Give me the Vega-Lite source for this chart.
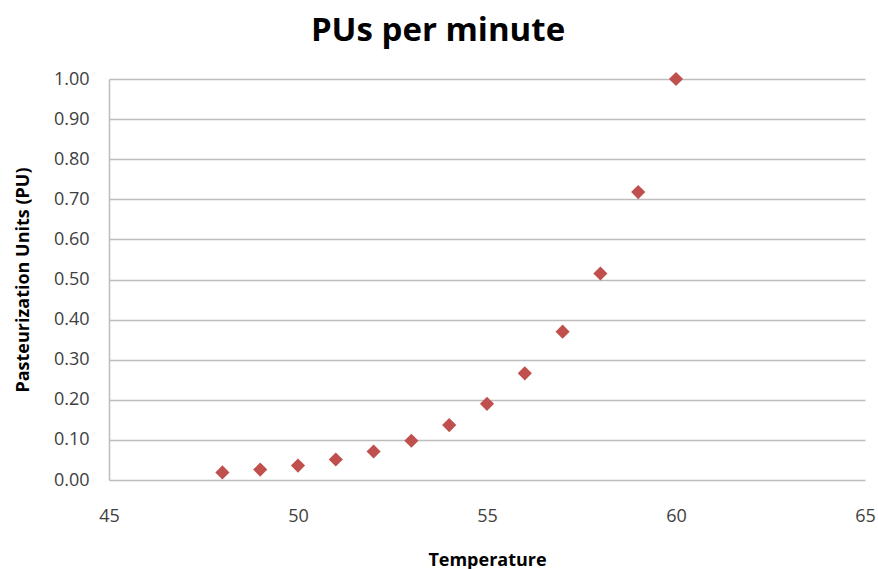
{
  "$schema": "https://vega.github.io/schema/vega-lite/v6.json",
  "width": 756,
  "height": 401,
  "autosize": {"type": "none"},
  "padding": {"left": 109, "top": 79, "right": 13, "bottom": 89},
  "background": "white",
  "title": {
    "text": "PUs per minute",
    "font": "Open Sans",
    "fontSize": 33,
    "fontWeight": "bold",
    "color": "#000000",
    "anchor": "middle",
    "dx": -49,
    "offset": 22
  },
  "data": {
    "values": [
      {"Temperature": 48, "PU": 0.019},
      {"Temperature": 49, "PU": 0.026},
      {"Temperature": 50, "PU": 0.036},
      {"Temperature": 51, "PU": 0.051},
      {"Temperature": 52, "PU": 0.071},
      {"Temperature": 53, "PU": 0.098},
      {"Temperature": 54, "PU": 0.137},
      {"Temperature": 55, "PU": 0.19},
      {"Temperature": 56, "PU": 0.266},
      {"Temperature": 57, "PU": 0.37},
      {"Temperature": 58, "PU": 0.515},
      {"Temperature": 59, "PU": 0.718},
      {"Temperature": 60, "PU": 1.0}
    ]
  },
  "mark": {"type": "point", "shape": "diamond", "filled": true, "size": 200, "color": "#c0504d", "opacity": 1},
  "encoding": {
    "x": {
      "field": "Temperature",
      "type": "quantitative",
      "scale": {"domain": [45, 65], "nice": false, "zero": false},
      "axis": {
        "values": [45, 50, 55, 60, 65],
        "grid": false,
        "ticks": false,
        "domain": false,
        "labelFont": "Open Sans",
        "labelFontSize": 18,
        "labelColor": "#404040",
        "labelPadding": 27,
        "labelFlush": false,
        "title": "Temperature",
        "titleFont": "Open Sans",
        "titleFontSize": 18,
        "titleFontWeight": "bold",
        "titleColor": "#000000",
        "titlePadding": 26
      }
    },
    "y": {
      "field": "PU",
      "type": "quantitative",
      "scale": {"domain": [0, 1], "nice": false},
      "axis": {
        "values": [0, 0.1, 0.2, 0.3, 0.4, 0.5, 0.6, 0.7, 0.8, 0.9, 1.0],
        "format": ".2f",
        "grid": true,
        "gridColor": "#bdbdbd",
        "gridWidth": 1.5,
        "ticks": false,
        "domain": true,
        "domainColor": "#bdbdbd",
        "domainWidth": 1.5,
        "labelFont": "Open Sans",
        "labelFontSize": 18,
        "labelColor": "#404040",
        "labelPadding": 20,
        "title": "Pasteurization Units (PU)",
        "titleFont": "Open Sans",
        "titleFontSize": 18,
        "titleFontWeight": "bold",
        "titleColor": "#000000",
        "titlePadding": 21
      }
    }
  },
  "config": {"view": {"stroke": null}}
}
